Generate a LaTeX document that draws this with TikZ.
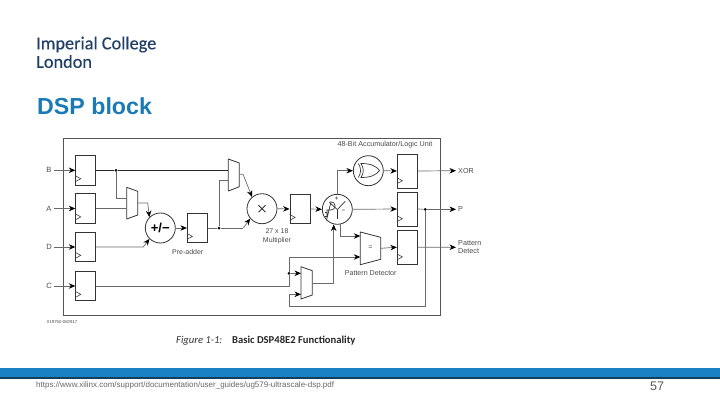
\documentclass[tikz,border=0pt]{standalone}
\usepackage{fontspec}
\setmainfont{Liberation Sans}
\newfontfamily\logofont{Carlito}
\newfontfamily\logobold[FakeBold=0.35]{Carlito}
\usetikzlibrary{arrows.meta}
\definecolor{boxc}{HTML}{555555}
\definecolor{wirec}{HTML}{6A6A6A}
\definecolor{txtc}{HTML}{4A4A4A}
\definecolor{logoc}{HTML}{1F3F66}
\definecolor{titlec}{HTML}{1A7AB5}
\definecolor{barc}{HTML}{1A80C4}
\definecolor{bardark}{HTML}{123F5E}
\tikzset{
  frame/.style={draw=boxc,line width=1pt},
  reg/.style={draw=black!80,line width=0.8pt,minimum width=20pt,inner sep=0pt},
  regb/.style={reg,minimum height=29.4pt},
  regc/.style={reg,minimum height=34pt},
  op/.style={circle,draw=black!80,line width=0.8pt,minimum size=30pt,inner sep=0pt,font=\fontsize{13}{13}\selectfont\bfseries},
  wire/.style={draw=wirec,line width=0.7pt},
  bus/.style={draw=black!85,line width=0.8pt},
  arr/.style={wire,-{Stealth[length=6.5pt,width=5.5pt,color=black]}},
  mux/.style={draw=black!80,line width=0.8pt,join=round},
  dot/.style={circle,fill=black,inner sep=0pt,minimum size=3pt},
  lab/.style={text=txtc,font=\fontsize{7.1}{8}\selectfont,inner sep=0pt},
  gate/.style={draw=black!80,line width=0.7pt},
  clk/.style={draw=black!75,line width=0.6pt}
}
\begin{document}
\begin{tikzpicture}[x=1pt,y=-1pt]
\useasboundingbox (0,0) rectangle (720,405);
% header
\node[anchor=west,inner sep=0pt,text=logoc,font=\logobold\fontsize{18.3}{18}\selectfont] (logoa) at (36,44.5) {Imperial College};
\node[anchor=west,inner sep=0pt,text=logoc,font=\logobold\fontsize{18.3}{18}\selectfont] (logob) at (36,61.5) {London};
\node[anchor=west,inner sep=0pt,text=titlec,font=\fontsize{23.2}{23}\selectfont\bfseries] (title) at (37,106) {DSP block};
% outer frame
\node[frame,anchor=north west,minimum width=377.6pt,minimum height=177.3pt,inner sep=0pt] (outer) at (62.7,138) {};
% input labels
\node[lab,font=\fontsize{7.6}{8}\selectfont] (lb) at (49,170.3) {B};
\node[lab,font=\fontsize{7.6}{8}\selectfont] (la) at (49,208.5) {A};
\node[lab,font=\fontsize{7.6}{8}\selectfont] (ld) at (49,246.8) {D};
\node[lab,font=\fontsize{7.6}{8}\selectfont] (lc) at (49,285.5) {C};
% registers
\node[regb] (rb) at (85.7,170.3) {};
\node[regb] (ra) at (85.7,208.5) {};
\node[regb] (rd) at (85.7,247) {};
\node[regb] (rc) at (85.7,286) {};
\node[regb] (rp) at (197.3,228) {};
\node[regb] (rm) at (300,209) {};
\node[regc] (rx) at (407.3,171) {};
\node[regc] (ro) at (407.3,209) {};
\node[regc] (rd2) at (407.3,247.2) {};
\foreach \r/\s in {rb/6.7,ra/6.7,rd/6.7,rc/6.7,rp/6.7,rm/6.7,rx/7.7,ro/7.7,rd2/7.7}{
  \draw[clk] ([yshift=\s pt+3pt]\r.south west) -- ([xshift=5.5pt,yshift=\s pt]\r.south west) -- ([yshift=\s pt-3pt]\r.south west);
}
% operators
\node[op] (add) at (160.3,228) {+/−};
\node[op] (mul) at (262,208.7) {};
\node[op] (alu) at (337.3,209.3) {};
\node[op] (xorg) at (368.3,170.7) {};
% multiply sign
\draw[line width=0.8pt,black!80] ([shift={(-3.5pt,-3.5pt)}]mul.center) -- ([shift={(3.5pt,3.5pt)}]mul.center);
\draw[line width=0.8pt,black!80] ([shift={(-3.5pt,3.5pt)}]mul.center) -- ([shift={(3.5pt,-3.5pt)}]mul.center);
% muxes
\draw[mux] (126.7,187.3) coordinate (m1a) -- (137.7,191.3) -- (137.7,215) -- (126.7,219) -- cycle;
\draw[mux] (228.3,159) -- (239.3,163) -- (239.3,186.7) -- (228.3,191) -- cycle;
\draw[mux] (301,266.7) -- (312.3,270.7) -- (312.3,295) -- (301,299) -- cycle;
\draw[mux] (360.3,232) -- (380.7,237.3) -- (380.7,259.3) -- (360.3,264.7) -- cycle;
\coordinate (m1i1) at (126.7,198.7);
\coordinate (m1i2) at (126.7,208.5);
\coordinate (m1o) at (137.7,203);
\coordinate (m2i1) at (228.3,170.3);
\coordinate (m2i2) at (228.3,180.3);
\coordinate (m2o) at (239.3,174.3);
\coordinate (m3i1) at (301,273.3);
\coordinate (m3i2) at (301,294.3);
\coordinate (m3o) at (312.3,283.3);
\coordinate (pdi1) at (360.3,236);
\coordinate (pdi2) at (360.3,257);
\coordinate (pdo) at (380.7,248.3);
\node[lab,font=\fontsize{7}{7}\selectfont] (eq) at (370.3,247.5) {=};
% junctions
\node[dot] (jb) at (116,170.3) {};
\node[dot] (jp) at (219,228) {};
\node[dot] (jq) at (425.3,209.3) {};
\node[dot] (jc) at (289,273.3) {};
% inputs
\coordinate (ib) at (54,170.3);
\coordinate (ia) at (54,208.5);
\coordinate (id) at (54,247);
\coordinate (ic) at (54,286);
\draw[arr] (ib) -- (rb.west);
\draw[arr] (ia) -- (ra.west);
\draw[arr] (id) -- (rd.west);
\draw[arr] (ic) -- (rc.west);
% B path
\draw[bus] (rb.east) -- (jb) -- (m2i1);
\draw[wire] (jb) |- (m1i1);
\draw[wire] (ra.east) -- (m1i2);
\draw[arr] (m1o) -- (147.7,203) -- (add.135);
\draw[arr] (rd.east) -- (143.3,247) -- (add.225);
\draw[arr] (add.east) -- (rp.west);
\draw[wire] (rp.east) -- (jp) -- (243.3,228);
\draw[arr] (243.3,228) -- (mul.220);
\draw[wire] (jp) |- (m2i2);
\draw[arr] (m2o) -- (243,174.3) -- (mul.130);
\draw[arr] (mul.east) -- (rm.west);
\draw[arr] (rm.east) -- (alu.west);
% ALU outputs
\coordinate (alut) at (337.3,194.3);
\draw[arr] (alut) |- (xorg.west);
\draw[arr] (alu.east) -- (ro.west);
\coordinate (alub) at (340.3,224.1);
\draw[arr] (alub) |- (pdi1);
\draw[arr] (pdo) -- (rd2.west);
\draw[arr] (xorg.east) -- (rx.west);
% outputs
\node[lab,anchor=west,font=\fontsize{7.2}{8}\selectfont] (lx) at (458,170.7) {XOR};
\node[lab,anchor=west,font=\fontsize{7.2}{8}\selectfont] (lp) at (458,209.3) {P};
\node[lab,anchor=west,align=left,font=\fontsize{7.2}{8.5}\selectfont] (lpd) at (458,247.3) {Pattern\\Detect};
\coordinate (ox) at (456,170.7);
\coordinate (op) at (456,209.3);
\coordinate (opd) at (456,247.3);
\draw[arr] (rx.east) -- (ox);
\draw[wire] (ro.east) -- (jq);
\draw[arr] (jq) -- (op);
\draw[arr] (rd2.east) -- (opd);
% C path
\draw[wire] (rc.east) -- (289,286) -- (jc);
\draw[arr] (jc) -- (m3i1);
\draw[arr] (jc) |- (pdi2);
\draw[arr] (m3o) -- (333.7,283.3) -- (333.7,224.5);
\draw[arr] (jq) |- (289,306.3) |- (m3i2);
% ALU internals
\coordinate (yc) at (337.3,209.5);
\draw[gate] (yc) -- (329.3,202.3);
\draw[gate] (yc) -- (345.3,201.3);
\draw[gate] (yc) -- (337.3,219.3);
\node[lab,font=\fontsize{6}{6}\selectfont\bfseries] (plus) at (336.7,199) {+};
\node[lab,font=\fontsize{6}{6}\selectfont\bfseries] (minus) at (343.3,211.7) {−};
% AND gate with inverting bubble
\draw[gate] (327,210) -- (331,210) arc (90:-90:4.15 and 4.15) -- (327,218.3) -- cycle;
\draw[gate] (325.3,212) -- (327,212) (325.3,216) -- (327,216);
% XOR gate
\draw[gate] (361,163.5) .. controls (371,163.5) and (376,166) .. (379.5,170.5) .. controls (376,175) and (371,177.5) .. (361,177.5) .. controls (364,173) and (364,168) .. (361,163.5) -- cycle;
\draw[gate] (358.3,163.5) .. controls (361.3,168) and (361.3,173) .. (358.3,177.5);
% other labels
\node[lab,font=\fontsize{7.2}{8}\selectfont] (t48) at (385,145) {48-Bit Accumulator/Logic Unit};
\node[lab,align=center,font=\fontsize{7}{8.6}\selectfont] (tm) at (277,236) {27 x 18\\Multiplier};
\node[lab,font=\fontsize{7.1}{8}\selectfont] (tpd) at (370.7,273) {Pattern Detector};
\node[lab,font=\fontsize{7}{8}\selectfont] (tpa) at (187.7,251.7) {Pre-adder};
\node[lab,anchor=west,font=\fontsize{4.3}{5}\selectfont] (tid) at (46.5,322.5) {X19750-082917};
% caption
\node[anchor=west,inner sep=0pt,font=\logofont\fontsize{10.6}{11}\selectfont\itshape,text=black!80] (capa) at (176,340.3) {Figure 1-1:};
\node[anchor=west,inner sep=0pt,font=\logofont\fontsize{10.6}{11}\selectfont\bfseries,text=black!85] (capb) at (232,340.3) {Basic DSP48E2 Functionality};
% footer
\fill[barc] (0,368) rectangle (720,377);
\fill[bardark] (0,377) rectangle (720,379);
\node[anchor=west,inner sep=0pt,text=black!60,font=\fontsize{8}{8}\selectfont] (url) at (36,385.5) {https://www.xilinx.com/support/documentation/user\_guides/ug579-ultrascale-dsp.pdf};
\node[anchor=center,inner sep=0pt,text=black!65,font=\fontsize{12.5}{12}\selectfont] (page) at (657,386.5) {57};
\end{tikzpicture}
\end{document}
